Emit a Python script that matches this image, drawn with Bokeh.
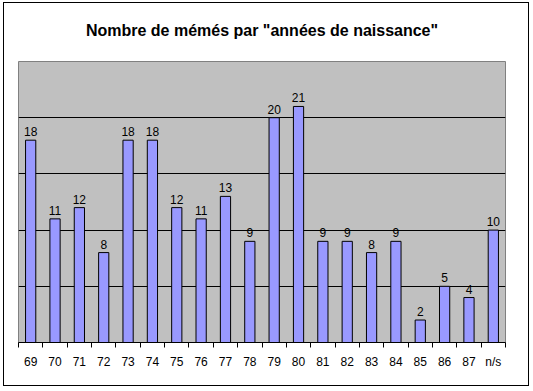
from bokeh.plotting import figure
from bokeh.models import Range1d, FixedTicker, ColumnDataSource, LabelSet, Title
from bokeh.core.properties import value
from bokeh.embed import file_html
from bokeh.resources import INLINE

categories = ["69", "70", "71", "72", "73", "74", "75", "76", "77", "78",
              "79", "80", "81", "82", "83", "84", "85", "86", "87", "n/s"]
values = [18, 11, 12, 8, 18, 18, 12, 11, 13, 9, 20, 21, 9, 9, 8, 9, 2, 5, 4, 10]
title_text = 'Nombre de mémés par "années de naissance"'

n = len(categories)
centers = [i + 0.5 for i in range(n)]
source = ColumnDataSource(dict(x=centers, top=values, label=[str(v) for v in values]))

p = figure(width=526, height=384, output_backend="svg", toolbar_location=None,
           x_range=Range1d(0, n), y_range=Range1d(0, 25),
           min_border_left=14, min_border_right=25, min_border_top=58, min_border_bottom=45)

p.title.text = title_text
p.title.align = "center"
p.title.text_font = "Liberation Sans"
p.title.text_font_size = "16px"
p.title.text_font_style = "bold"
p.title.text_color = "black"

spacer = Title(text="\u00a0", text_font_size="14px", standoff=0)
p.add_layout(spacer, "above")

p.background_fill_color = "#C0C0C0"
p.border_fill_color = "white"
p.outline_line_color = "#808080"
p.outline_line_width = 1

p.vbar(x="x", top="top", width=0.42, bottom=0, source=source,
       fill_color="#9999FF", line_color="black", line_width=1)

labels = LabelSet(x="x", y="top", text="label", source=source, text_align="center",
                  text_baseline="bottom", y_offset=4, text_font=value("Liberation Sans"),
                  text_font_size="12px", text_color="black")
p.add_layout(labels)

p.yaxis.visible = False
p.xgrid.visible = False
p.ygrid.ticker = FixedTicker(ticks=[5, 10, 15, 20])
p.ygrid.grid_line_color = "black"
p.ygrid.grid_line_width = 1

ax = p.xaxis[0]
ax.ticker = FixedTicker(ticks=centers, minor_ticks=list(range(n + 1)))
ax.major_label_overrides = {c: lab for c, lab in zip(centers, categories)}
ax.major_tick_out = 0
ax.major_tick_in = 0
ax.minor_tick_out = 5
ax.minor_tick_in = 0
ax.minor_tick_line_color = "black"
ax.axis_line_color = "black"
ax.major_label_text_font = "Liberation Sans"
ax.major_label_text_font_size = "12px"
ax.major_label_text_color = "black"
ax.major_label_standoff = 7

p.styles = {"border": "1px solid black", "margin": "2px 0px 0px 3px"}

open("out.html", "w").write(file_html(p, INLINE))
